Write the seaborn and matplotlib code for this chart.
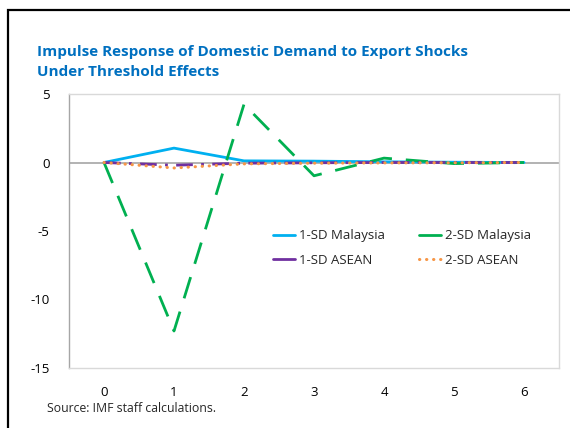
import matplotlib
matplotlib.use('Agg')
import matplotlib.pyplot as plt
import seaborn as sns
from matplotlib.patches import Rectangle

# Datos
periods = [0, 1, 2, 3, 4, 5, 6]
sd1_malaysia = [0.0, 1.05, 0.12, 0.1, 0.05, 0.02, 0.0]
sd2_malaysia = [0.0, -12.3, 4.25, -0.97, 0.32, -0.08, 0.0]
sd1_asean = [0.0, -0.2, -0.05, -0.02, 0.0, 0.0, 0.0]
sd2_asean = [0.0, -0.4, -0.1, -0.05, -0.03, -0.02, 0.0]
y_ticks = [5, 0, -5, -10, -15]

sns.set_style('white')
plt.rcParams['font.family'] = ['Open Sans', 'DejaVu Sans']
plt.rcParams['axes.unicode_minus'] = False

fig = plt.figure(figsize=(5.7, 4.28), dpi=100)
ax = fig.add_axes([69 / 570, 1 - 368 / 428, (559 - 69) / 570, (368 - 94) / 428])

# Marco negro de la figura (izquierda y arriba)
fig.patches.append(Rectangle((8 / 570, -0.1), 1.2, 1 - 10 / 428 + 0.1, transform=fig.transFigure,
                             fill=False, edgecolor='black', linewidth=1.6))

ax.axhline(0, color='#A6A6A6', linewidth=1.2, zorder=1)

sns.lineplot(x=periods, y=sd1_malaysia, ax=ax, color='#00B0F0', linewidth=2, label='1-SD Malaysia')
sns.lineplot(x=periods, y=sd2_malaysia, ax=ax, color='#00B050', linewidth=2, label='2-SD Malaysia')
ax.lines[-1].set_dashes([8, 5])
sns.lineplot(x=periods, y=sd1_asean, ax=ax, color='#7030A0', linewidth=2, label='1-SD ASEAN')
ax.lines[-1].set_dashes([6, 3, 1, 3])
sns.lineplot(x=periods, y=sd2_asean, ax=ax, color='#F79646', linewidth=2.2, label='2-SD ASEAN')
ax.lines[-1].set_dashes([0.1, 2.2])
ax.lines[-1].set_dash_capstyle('round')

ax.set_xlim(-0.5, 6.5)
ax.set_ylim(-15, 5)
ax.set_yticks(y_ticks)
ax.set_xticks(periods)
ax.tick_params(axis='both', length=0, labelsize=9.5, colors='black')
ax.tick_params(axis='y', pad=14)
ax.tick_params(axis='x', pad=13)

for side in ['top', 'right', 'bottom']:
    ax.spines[side].set_color('#D9D9D9')
    ax.spines[side].set_linewidth(1)
ax.spines['left'].set_color('#A6A6A6')
ax.spines['left'].set_linewidth(1)

# Leyenda en orden por filas
handles, labels = ax.get_legend_handles_labels()
order = [0, 2, 1, 3]
leg = ax.legend([handles[i] for i in order], [labels[i] for i in order], ncol=2,
                loc='upper left', bbox_to_anchor=(0.392, 0.55), frameon=False,
                fontsize=9.5, handlelength=1.7, handletextpad=0.25, columnspacing=2.6,
                labelspacing=0.9)
for line in leg.get_lines():
    if line.get_label() != '2-SD ASEAN':
        line.set_linestyle('-')

fig.text(37 / 570, 1 - 62 / 428, 'Impulse Response of Domestic Demand to Export Shocks\nUnder Threshold Effects',
         color='#0070C0', fontsize=11, fontweight='bold', va='center', ha='left', linespacing=1.55)
fig.text(47 / 570, 1 - 409 / 428, 'Source: IMF staff calculations.', fontsize=8.8, va='center', ha='left')

fig.savefig('out.png', dpi=100)
